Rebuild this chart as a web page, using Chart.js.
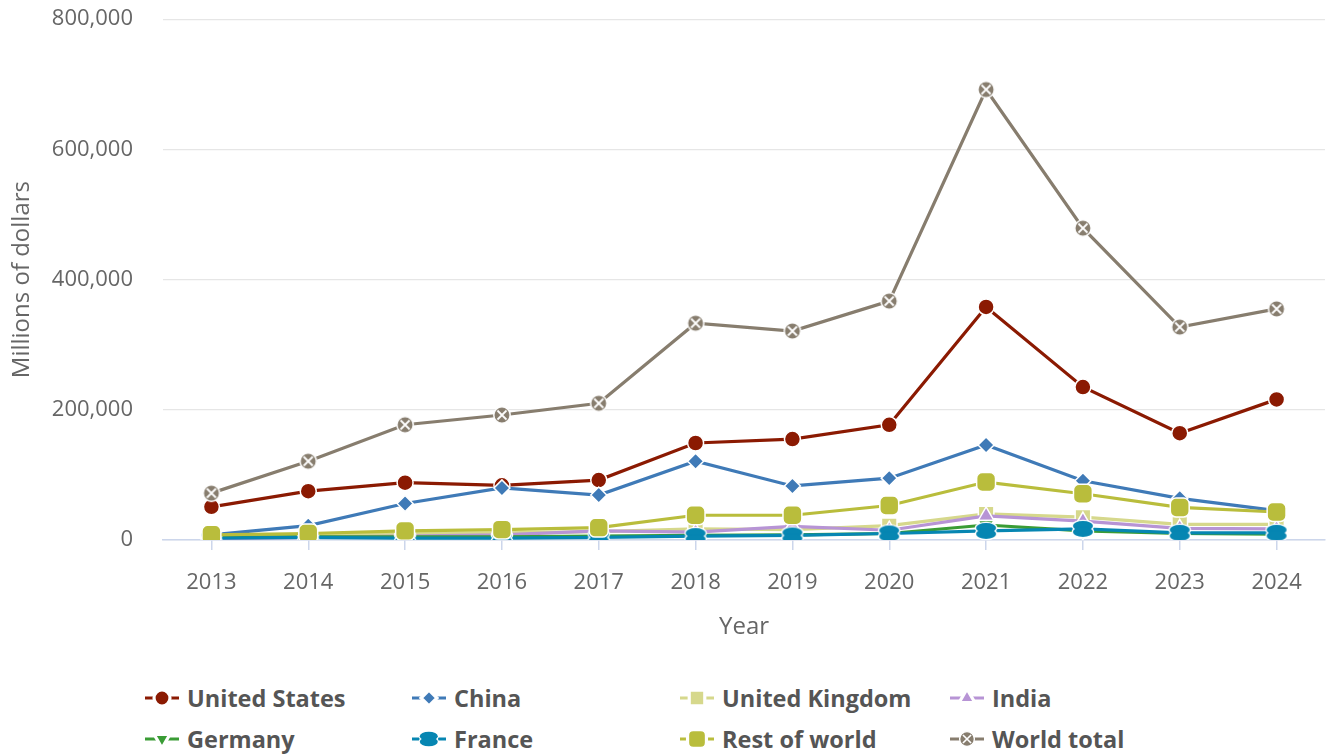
<!DOCTYPE html>
<html>
<head>
<meta charset="utf-8">
<script src="https://cdn.jsdelivr.net/npm/chart.js@4/dist/chart.umd.min.js"></script>
<style>
  html, body { margin: 0; padding: 0; background: #fff; }
  #wrap { position: relative; width: 1330px; height: 755px; overflow: hidden; }
  #c { position: absolute; left: 0; top: -24px; }
  #legend { position: absolute; left: 0; top: 676px; width: 1330px; height: 80px;
    font-family: "Open Sans", sans-serif; font-weight: 700; font-size: 23.5px; color: #555; }
  .item { position: absolute; display: flex; align-items: center; height: 30px; white-space: nowrap; }
  .item canvas { margin-right: 8px; }
</style>
</head>
<body>
<div id="wrap">
  <canvas id="c" width="1330" height="674"></canvas>
  <div id="legend"></div>
</div>
<script>
// ---- data ----
const years = ["2013","2014","2015","2016","2017","2018","2019","2020","2021","2022","2023","2024"];
const unitedStates = [51000, 75000, 88000, 84000, 92000, 149000, 155000, 177000, 358000, 235000, 164000, 216000];
const china        = [8000, 22000, 56000, 80000, 69000, 121000, 83000, 95000, 146000, 91000, 64000, 45000];
const unitedKingdom= [5000, 7000, 10000, 11000, 13000, 17000, 16000, 22000, 40000, 35000, 24000, 24000];
const india        = [2000, 4000, 6000, 8000, 14000, 12000, 21000, 15000, 37000, 29000, 18000, 17000];
const germany      = [4000, 5000, 5000, 5000, 6000, 7000, 8000, 10000, 23000, 14000, 10000, 9000];
const france       = [3000, 4000, 3000, 3000, 4000, 6000, 7000, 10000, 14000, 17000, 11000, 11000];
const restOfWorld  = [8000, 10000, 14000, 16000, 19000, 38000, 38000, 53000, 89000, 71000, 50000, 43000];
const worldTotal   = [72000, 121000, 177000, 192000, 210000, 333000, 321000, 367000, 692000, 479000, 327000, 355000];
const yTicks = [0, 200000, 400000, 600000, 800000];

// ---- custom markers ----
function franceMarker(col, k) {
  k = k || 1;
  const c = document.createElement('canvas');
  c.width = Math.round(24 * k); c.height = Math.round(20 * k);
  const x = c.getContext('2d');
  x.scale(k, k);
  x.strokeStyle = '#fff'; x.lineWidth = 2.5;
  x.beginPath(); x.ellipse(12, 7, 10, 5, 0, 0, Math.PI * 2); x.stroke();
  x.beginPath(); x.ellipse(12, 13, 10, 5, 0, 0, Math.PI * 2); x.stroke();
  x.fillStyle = col;
  x.beginPath(); x.ellipse(12, 7, 10, 5, 0, 0, Math.PI * 2); x.fill();
  x.beginPath(); x.ellipse(12, 13, 10, 5, 0, 0, Math.PI * 2); x.fill();
  return c;
}
function worldMarker(col, k) {
  k = k || 1;
  const c = document.createElement('canvas');
  c.width = Math.round(20 * k); c.height = Math.round(20 * k);
  const x = c.getContext('2d');
  x.scale(k, k);
  x.beginPath(); x.arc(10, 10, 8.2, 0, Math.PI * 2);
  x.fillStyle = col; x.fill();
  x.strokeStyle = '#fff'; x.lineWidth = 1.5; x.stroke();
  x.beginPath();
  x.moveTo(5.5, 5.5); x.lineTo(14.5, 14.5);
  x.moveTo(14.5, 5.5); x.lineTo(5.5, 14.5);
  x.lineWidth = 1.8; x.stroke();
  return c;
}

const series = [
  { label: 'United States',  data: unitedStates,  color: '#8b1a02', style: 'circle',      radius: 8 },
  { label: 'China',          data: china,         color: '#3f7ab7', style: 'rectRot',     radius: 8 },
  { label: 'United Kingdom', data: unitedKingdom, color: '#d6d88c', style: 'rect',        radius: 11 },
  { label: 'India',          data: india,         color: '#b794d5', style: 'triangle',    radius: 9 },
  { label: 'Germany',        data: germany,       color: '#3a9c35', style: 'triangle',    radius: 9, rotation: 180 },
  { label: 'France',         data: france,        color: '#0686b2', style: franceMarker('#0686b2'), legendStyle: franceMarker('#0686b2', 0.9) },
  { label: 'Rest of world',  data: restOfWorld,   color: '#b9bd3c', style: 'rectRounded', radius: 11 },
  { label: 'World total',    data: worldTotal,    color: '#877d6e', style: worldMarker('#877d6e'), legendStyle: worldMarker('#877d6e', 0.9) }
];

const datasets = series.map((s, i) => ({
  label: s.label,
  data: s.data,
  borderColor: s.color,
  backgroundColor: s.color,
  borderWidth: 3.2,
  pointStyle: s.style,
  pointRadius: s.radius || 8,
  pointRotation: s.rotation || 0,
  pointBackgroundColor: s.color,
  pointBorderColor: '#fff',
  pointBorderWidth: 1.5,
  tension: 0,
  order: series.length - 1 - i
}));

const tickFont = { family: '"Open Sans", sans-serif', size: 22 };
const titleFont = { family: '"Open Sans", sans-serif', size: 24 };
new Chart(document.getElementById('c'), {
  type: 'line',
  data: { labels: years, datasets },
  options: {
    responsive: false,
    animation: false,
    devicePixelRatio: 1,
    layout: { autoPadding: false, padding: { top: 19, right: 5, left: 0, bottom: 8 } },
    plugins: { legend: { display: false }, tooltip: { enabled: false } },
    scales: {
      x: {
        offset: true,
        afterFit: (s) => { s.height = 102; },
        grid: { display: true, drawOnChartArea: false, drawTicks: true, tickLength: 10, color: '#ccd6eb', offset: false, lineWidth: 1.5 },
        border: { display: true, color: '#ccd6eb', width: 1.5 },
        ticks: { color: '#666', font: tickFont, padding: 20, maxRotation: 0 },
        title: { display: true, text: 'Year', color: '#666', font: titleFont, padding: { top: 0, bottom: 0 } }
      },
      y: {
        min: 0, max: 800000,
        afterFit: (s) => { s.width = 163; },
        afterBuildTicks: (axis) => { axis.ticks = yTicks.map(v => ({ value: v })); },
        grid: { color: '#e6e6e6', drawTicks: false, tickLength: 0, lineWidth: 1.2 },
        border: { display: false },
        ticks: { color: '#666', font: tickFont, padding: 30,
                 callback: v => v.toLocaleString('en-US') },
        title: { display: true, text: 'Millions of dollars', color: '#666', font: titleFont, padding: { top: 7.6, bottom: 0 } }
      }
    }
  }
});

// ---- HTML legend ----
const legend = document.getElementById('legend');
const colX = [145, 412, 680, 950];
const rowY = [7, 48];
series.forEach((s, i) => {
  const item = document.createElement('div');
  item.className = 'item';
  item.style.left = colX[i % 4] + 'px';
  item.style.top = rowY[Math.floor(i / 4)] + 'px';
  const ic = document.createElement('canvas');
  ic.width = 34; ic.height = 26;
  const g = ic.getContext('2d');
  g.strokeStyle = s.color; g.lineWidth = 3.2;
  g.beginPath(); g.moveTo(0, 13); g.lineTo(34, 13); g.stroke();
  if (typeof s.style === 'string') {
    g.fillStyle = s.color; g.strokeStyle = '#fff';
    Chart.helpers.drawPoint(g, { pointStyle: s.style, radius: (s.radius || 8), rotation: s.rotation || 0, borderWidth: 1.2 }, 17, 13);
  } else {
    const im = s.legendStyle;
    g.drawImage(im, 17 - im.width / 2, 13 - im.height / 2);
  }
  item.appendChild(ic);
  const t = document.createElement('span');
  t.textContent = s.label;
  item.appendChild(t);
  legend.appendChild(item);
});
</script>
</body>
</html>
